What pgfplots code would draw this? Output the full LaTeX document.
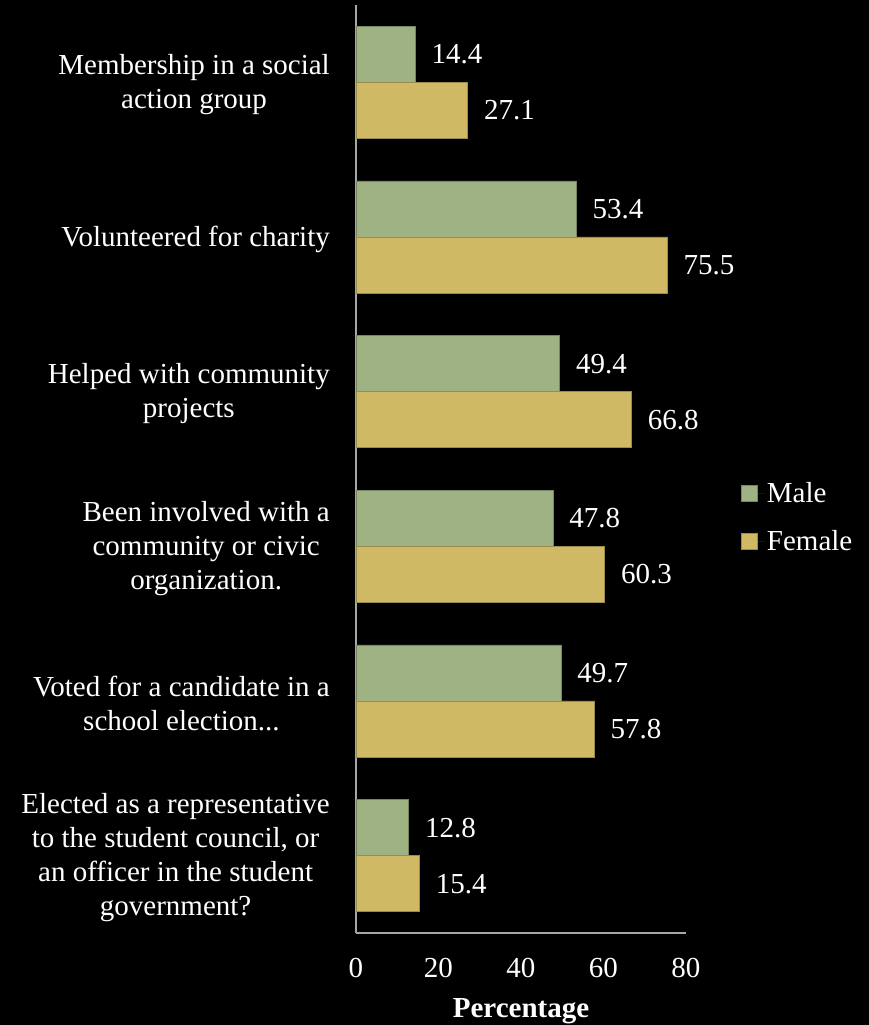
\documentclass[border=0pt]{standalone}
\usepackage{pgfplots}
\pgfplotsset{compat=1.18}
\usepackage{fontspec}
\setmainfont{Liberation Serif}
\definecolor{male}{HTML}{9FB283}
\definecolor{female}{HTML}{CFB965}
\definecolor{axgray}{HTML}{A6A6A6}
\begin{document}
\begin{tikzpicture}
\fill[black] (-356bp,-92bp) rectangle (513bp,933bp);
\begin{axis}[
  at={(0,0)}, anchor=south west,
  scale only axis, width=330bp, height=928bp,
  xbar, bar width=56bp,
  xmin=0, xmax=80, ymin=-0.5, ymax=5.5,
  xtick={0,20,40,60,80},
  ytick={0,1,2,3,4,5},
  yticklabels={{Elected as a representative\\to the student council, or\\an officer in the student\\government?},
    {Voted for a candidate in a\\school election{.}{.}{.}},
    {Been involved with a\\community or civic\\organization.},
    {Helped with community\\projects},
    {Volunteered for charity},
    {Membership in a social\\action group}},
  axis x line*=bottom, axis y line*=left,
  axis line style={axgray, line width=1.5bp, -},
  major tick length=0pt,
  font=\fontsize{29bp}{34bp}\selectfont,
  /pgf/number format/assume math mode=true,
  ticklabel style={text=white},
  yticklabel style={align=center, inner sep=0pt, xshift=-26bp, yshift=-2bp},
  xticklabel style={anchor=center, yshift=-35bp},
  xlabel={\textbf{Percentage}},
  xlabel style={text=white, at={(0.5,0)}, anchor=center, yshift=-78bp},
  nodes near coords={\pgfmathprintnumber[fixed,precision=1,assume math mode=true]{\pgfplotspointmeta}},
  nodes near coords style={text=white, anchor=west, inner sep=0pt, xshift=16bp},
  legend style={at={(1.156,0.448)}, anchor=west, fill=none, draw=none, text=white,
    font=\fontsize{29bp}{34bp}\selectfont, row sep=22bp},
  legend cell align=left,
  legend image code/.code={\fill[#1] (0bp,-8bp) rectangle (16bp,8bp); \path[draw=none] (0bp,0bp) -- (24bp,0bp);},
]
\addplot[fill=male, draw=male!75!black, line width=0.6bp, bar shift=28bp] coordinates {
  (12.8,0) (49.7,1) (47.8,2) (49.4,3) (53.4,4) (14.4,5)};
\addplot[fill=female, draw=female!75!black, line width=0.6bp, bar shift=-28bp] coordinates {
  (15.4,0) (57.8,1) (60.3,2) (66.8,3) (75.5,4) (27.1,5)};
\legend{Male, Female}
\end{axis}
\pgfresetboundingbox
\path (-356bp,-92bp) rectangle (513bp,933bp);
\end{tikzpicture}
\end{document}
